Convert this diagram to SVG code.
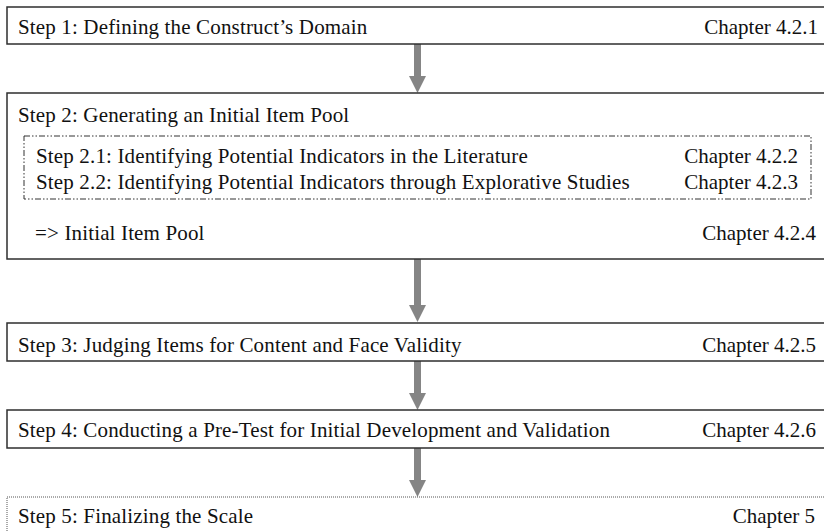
<svg xmlns="http://www.w3.org/2000/svg" width="824" height="531" viewBox="0 0 824 531">
  <style>
    .box { fill: #ffffff; stroke: #2e2e2e; stroke-width: 1.5; }
    .box-open { fill: #ffffff; stroke: #555555; stroke-width: 1; stroke-dasharray: 1 1; }
    .group { fill: none; stroke: #333333; stroke-width: 1; stroke-dasharray: 6 2 1.5 2 1.5 2; }
    .t { font-family: "Liberation Serif", "Times New Roman", serif; font-size: 21px; fill: #111111; }
    .l { letter-spacing: 0.15px; }
    .r { text-anchor: end; }
    .arrow { fill: #858585; }
  </style>

  <g id="connectors">
    <path class="arrow" d="M 414 44 H 421 V 76 H 426 L 417.5 93 L 409 76 H 414 Z"/>
    <path class="arrow" d="M 414 259 H 421 V 305 H 426 L 417.5 322 L 409 305 H 414 Z"/>
    <path class="arrow" d="M 414 361 H 421 V 393 H 426 L 417.5 410 L 409 393 H 414 Z"/>
    <path class="arrow" d="M 414 448 H 421 V 480 H 426 L 417.5 497 L 409 480 H 414 Z"/>
  </g>

  <g id="step1">
    <rect class="box" x="7" y="7" width="830" height="37"/>
    <text class="t l" x="18" y="34">Step 1: Defining the Construct’s Domain</text>
    <text class="t r" x="818" y="34">Chapter 4.2.1</text>
  </g>

  <g id="step2">
    <rect class="box" x="7" y="93" width="830" height="166"/>
    <text class="t l" x="18" y="122">Step 2: Generating an Initial Item Pool</text>
    <rect class="group" x="24" y="136" width="787" height="63"/>
    <text class="t l" x="36" y="163">Step 2.1: Identifying Potential Indicators in the Literature</text>
    <text class="t r" x="798" y="163">Chapter 4.2.2</text>
    <text class="t l" x="36" y="189">Step 2.2: Identifying Potential Indicators through Explorative Studies</text>
    <text class="t r" x="798" y="189">Chapter 4.2.3</text>
    <text class="t l" x="35" y="240">=&gt; Initial Item Pool</text>
    <text class="t r" x="816" y="240">Chapter 4.2.4</text>
  </g>

  <g id="step3">
    <rect class="box" x="7" y="323" width="830" height="38"/>
    <text class="t l" x="18" y="352">Step 3: Judging Items for Content and Face Validity</text>
    <text class="t r" x="816" y="352">Chapter 4.2.5</text>
  </g>

  <g id="step4">
    <rect class="box" x="7" y="410" width="830" height="38"/>
    <text class="t l" x="18" y="437">Step 4: Conducting a Pre-Test for Initial Development and Validation</text>
    <text class="t r" x="816" y="437">Chapter 4.2.6</text>
  </g>

  <g id="step5">
    <rect class="box-open" x="7" y="497" width="830" height="50"/>
    <text class="t l" x="18" y="523">Step 5: Finalizing the Scale</text>
    <text class="t r" x="815" y="523">Chapter 5</text>
  </g>
</svg>
